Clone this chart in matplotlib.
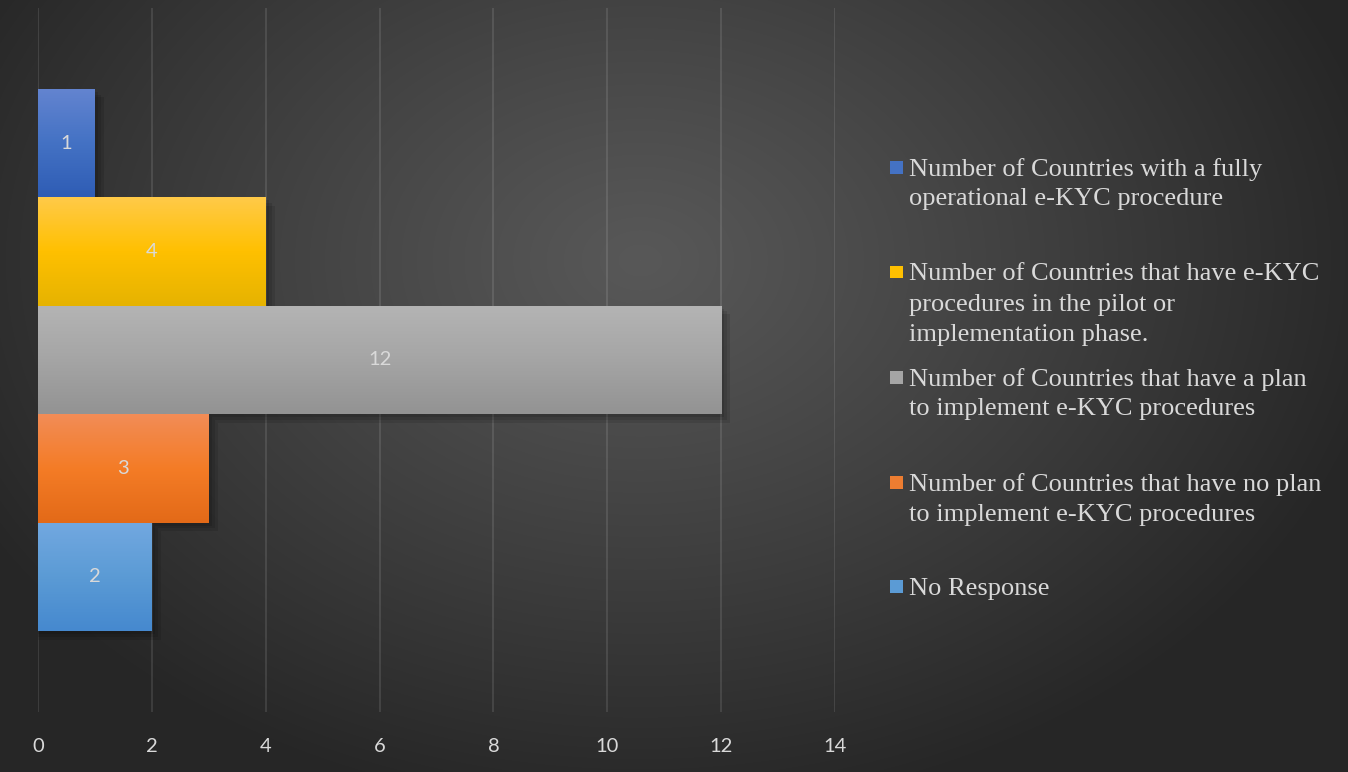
import numpy as np
import matplotlib
matplotlib.use("Agg")
import matplotlib.pyplot as plt
from matplotlib.patches import Rectangle
from matplotlib.colors import LinearSegmentedColormap, to_rgb

# ---- data -----------------------------------------------------------------
series_labels = [
    "Number of Countries with a fully\noperational e-KYC procedure",
    "Number of Countries that have e-KYC\nprocedures in the pilot or\nimplementation phase.",
    "Number of Countries that have a plan\nto implement e-KYC procedures",
    "Number of Countries that have no plan\nto implement e-KYC procedures",
    "No Response",
]
series_values = [1, 4, 12, 3, 2]
x_ticks = [0, 2, 4, 6, 8, 10, 12, 14]

# gradient stops (top, middle, bottom) for each bar
bar_gradients = [
    ("#6384d0", "#4472c4", "#2f5db5"),
    ("#ffca48", "#ffc000", "#e6b300"),
    ("#b4b4b4", "#a5a5a5", "#939393"),
    ("#f28c56", "#f47c26", "#e36a18"),
    ("#72a8e0", "#5b9bd5", "#4689cf"),
]
legend_colors = ["#4472c4", "#ffc000", "#a5a5a5", "#ed7d31", "#5b9bd5"]

W, H, DPI = 1348, 772, 100
fig = plt.figure(figsize=(W / DPI, H / DPI), dpi=DPI)

# ---- radial background -------------------------------------------------------
bg = fig.add_axes([0, 0, 1, 1])
bg.set_axis_off()
yy, xx = np.mgrid[0:H, 0:W]
cx, cy, rx, ry = 640, 260, 760, 560
d = np.sqrt(((xx - cx) / rx) ** 2 + ((yy - cy) / ry) ** 2)
d = np.clip(d, 0, 1)
c0, c1 = 0x58 / 255, 0x26 / 255
img = c0 + (c1 - c0) * d ** 1.1
bg.imshow(np.dstack([img] * 3), extent=[0, W, H, 0], aspect="auto")
bg.set_xlim(0, W)
bg.set_ylim(H, 0)

# ---- plot area ---------------------------------------------------------------
px_left, px_right = 38, 835
px_top, px_bottom = 8, 712
ax = fig.add_axes([px_left / W, 1 - px_bottom / H,
                   (px_right - px_left) / W, (px_bottom - px_top) / H])
ax.patch.set_alpha(0)
n = len(series_values)
ypos = np.arange(n)[::-1]  # first series on top
bar_h = 1.0
margin = 0.745

for x in x_ticks:
    ax.axvline(x, color="white", alpha=0.11, lw=1.4, zorder=1)

for val, y, grad in zip(series_values, ypos, bar_gradients):
    # soft shadow below / right of each bar
    for k in range(3):
        off = 0.012 * (k + 1)
        ax.add_patch(Rectangle((0.0, y - bar_h / 2 - off * 2.2),
                               val + off * 4.5, bar_h,
                               facecolor="black", alpha=0.10, lw=0, zorder=2))
    cmap = LinearSegmentedColormap.from_list("g", [to_rgb(c) for c in grad])
    grad_img = np.linspace(0, 1, 64).reshape(-1, 1)
    im = ax.imshow(grad_img, cmap=cmap, aspect="auto",
                   extent=[0, val, y - bar_h / 2, y + bar_h / 2],
                   origin="upper", zorder=3)
    rect = Rectangle((0, y - bar_h / 2), val, bar_h, facecolor="none", lw=0)
    ax.add_patch(rect)
    im.set_clip_path(rect)
    ax.text(val / 2, y, f"{val}", ha="center", va="center",
            color="#d9d9d9", fontsize=14.5, family="Lato", zorder=4)

ax.set_xlim(0, 14)
ax.set_ylim(-0.5 - margin, n - 0.5 + margin)
ax.set_xticks(x_ticks)
ax.set_xticklabels([str(t) for t in x_ticks], color="#d9d9d9",
                   fontsize=14.5, family="Lato")
ax.tick_params(axis="x", length=0, pad=19)
ax.set_yticks([])
for s in ax.spines.values():
    s.set_visible(False)

# ---- legend --------------------------------------------------------------------
leg_first_line_y = [167, 272, 377, 482, 586]
line_step = 30
for label, color, ly in zip(series_labels, legend_colors, leg_first_line_y):
    fig.patches.append(Rectangle((890 / W, 1 - (ly + 6.5) / H), 13 / W, 13 / H,
                                 transform=fig.transFigure,
                                 facecolor=color, lw=0))
    for i, line in enumerate(label.split("\n")):
        fig.text(909 / W, 1 - (ly + i * line_step) / H, line,
                 ha="left", va="center_baseline",
                 color="#d9d9d9", fontsize=19, family="Liberation Serif")

fig.savefig("out.png", dpi=DPI)
